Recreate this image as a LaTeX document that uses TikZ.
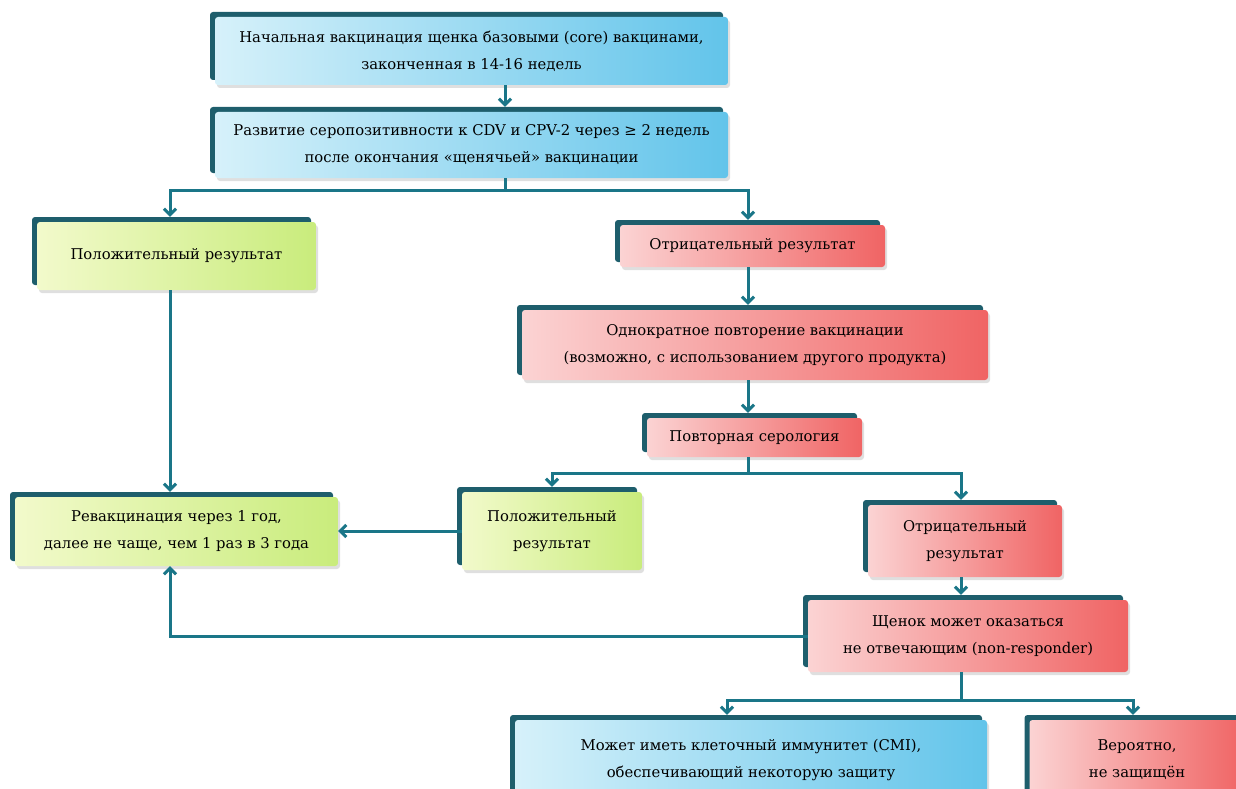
\documentclass[tikz,border=0pt]{standalone}
\usepackage{fontspec}
\setmainfont{DejaVu Serif}
\usetikzlibrary{arrows.meta,shadows}
\definecolor{lineteal}{HTML}{1A7688}
\definecolor{shadowteal}{HTML}{1E5E6C}
\definecolor{blueL}{HTML}{D6F1FA}
\definecolor{blueR}{HTML}{62C4EA}
\definecolor{redL}{HTML}{FBD3D3}
\definecolor{redR}{HTML}{F06464}
\definecolor{greenL}{HTML}{F2FACB}
\definecolor{greenR}{HTML}{C9EC7C}

\begin{document}
\begin{tikzpicture}[x=1pt,y=-1pt,
    box/.style={rounded corners=3pt, align=center, inner sep=0pt, text=black,
        font=\fontsize{14.8}{27}\selectfont,
        general shadow={shadow xshift=-5pt, shadow yshift=5pt, fill=shadowteal},
        drop shadow={shadow xshift=2pt, shadow yshift=-3pt, opacity=.25}},
    bluebox/.style={box, left color=blueL, right color=blueR},
    redbox/.style={box, left color=redL, right color=redR},
    greenbox/.style={box, left color=greenL, right color=greenR},
    ln/.style={lineteal, line width=3pt},
    arr/.style={ln, -{Straight Barb[length=6pt,width=12pt]}}]
    \useasboundingbox (0,0) rectangle (1236,789);
    % boxes
    \node[bluebox, minimum width=513pt, minimum height=68pt] (init) at (471.5,51)
        {Начальная вакцинация щенка базовыми (core) вакцинами,\\законченная в 14-16 недель};
    \node[bluebox, minimum width=513pt, minimum height=66pt] (sero) at (471.5,145)
        {Развитие серопозитивности к CDV и CPV-2 через ≥ 2 недель\\после окончания «щенячьей» вакцинации};
    \node[greenbox, minimum width=279pt, minimum height=68pt] (posA) at (176.5,256)
        {Положительный результат};
    \node[redbox, minimum width=265pt, minimum height=42pt] (negA) at (752.5,246)
        {Отрицательный результат};
    \node[redbox, minimum width=466pt, minimum height=70pt] (again) at (755,345)
        {Однократное повторение вакцинации\\(возможно, с использованием другого продукта)};
    \node[redbox, minimum width=215pt, minimum height=39pt] (reser) at (754.5,437.5)
        {Повторная серология};
    \node[greenbox, minimum width=323pt, minimum height=69pt] (revac) at (176.5,531.5)
        {Ревакцинация через 1 год,\\далее не чаще, чем 1 раз в 3 года};
    \node[greenbox, minimum width=180pt, minimum height=78pt] (posB) at (552,531)
        {Положительный\\результат};
    \node[redbox, minimum width=194pt, minimum height=72pt] (negB) at (965,541)
        {Отрицательный\\результат};
    \node[redbox, minimum width=320pt, minimum height=72pt] (puppy) at (968,636)
        {Щенок может оказаться\\не отвечающим (non-responder)};
    \node[bluebox, minimum width=472pt, minimum height=80pt] (cmi) at (751,760)
        {Может иметь клеточный иммунитет (CMI),\\обеспечивающий некоторую защиту};
    \node[redbox, minimum width=215pt, minimum height=80pt] (prob) at (1137,760)
        {Вероятно,\\не защищён};
    % split points
    \coordinate (xl) at (170,0);
    \coordinate (xm) at (748,0);
    \coordinate (xn) at (961,0);
    \coordinate (s1) at (505,190);
    \coordinate (s2) at (748,473);
    \coordinate (s3) at (961,700);
    % connectors
    \draw[arr, shorten >=5pt] (init.south -| s1) -- (sero.north -| s1);
    \draw[ln] (sero.south -| s1) -- (s1);
    \draw[arr, shorten >=5pt] (s1) -| (posA.north -| xl);
    \draw[arr, shorten >=5pt] (s1) -| (negA.north -| xm);
    \draw[arr, shorten >=5pt] (negA.south -| xm) -- (again.north -| xm);
    \draw[arr, shorten >=5pt] (again.south -| xm) -- (reser.north -| xm);
    \draw[ln] (reser.south -| s2) -- (s2);
    \draw[arr, shorten >=5pt] (s2) -| (posB.north);
    \draw[arr, shorten >=5pt] (s2) -| (negB.north -| xn);
    \draw[arr, shorten >=5pt] (posA.south -| xl) -- (revac.north -| xl);
    \draw[arr] (posB.west) -- (revac.east |- posB.west);
    \draw[arr, shorten >=5pt] (negB.south -| xn) -- (puppy.north -| xn);
    \draw[arr] (puppy.west) -| (revac.south -| xl);
    \draw[ln] (puppy.south -| s3) -- (s3);
    \draw[arr, shorten >=5pt] (s3) -| (cmi.north -| 727,0);
    \draw[arr, shorten >=5pt] (s3) -| (prob.north -| 1133,0);
\end{tikzpicture}
\end{document}
